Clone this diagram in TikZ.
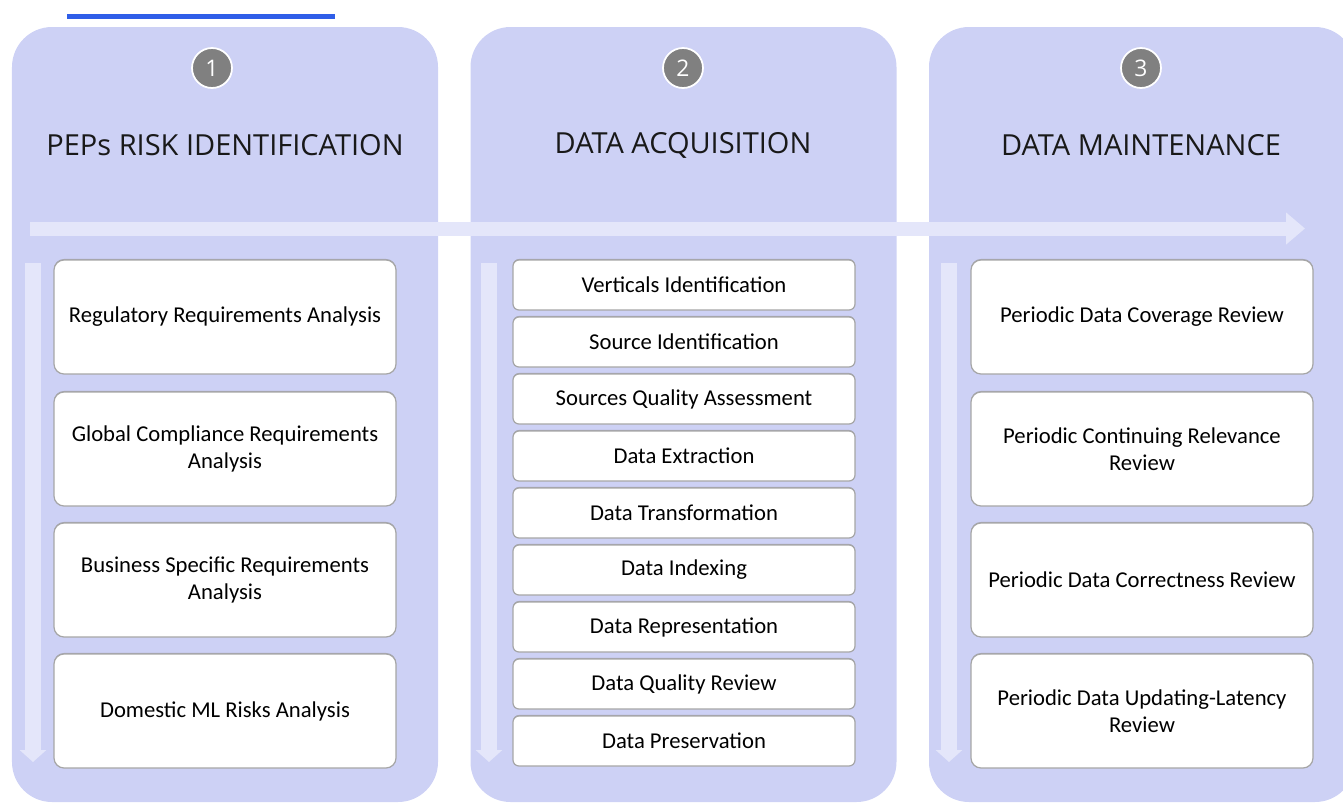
\documentclass[tikz,border=0pt]{standalone}
\usepackage{fontspec}
\setmainfont{Carlito}
\newfontfamily\headfont{Open Sans}
\usepackage{tikz}
\usetikzlibrary{calc,positioning,arrows.meta,shadows}

\definecolor{panelfill}{RGB}{205,209,245}
\definecolor{flowfill}{RGB}{228,230,250}
\definecolor{topline}{RGB}{47,94,232}
\definecolor{stepgray}{RGB}{128,128,128}

\begin{document}
\begin{tikzpicture}[>=Triangle]
      \tikzset{
	  panel/.style={rectangle, rounded corners=0.8cm, fill=panelfill, minimum width=8.52cm, minimum height=15.5cm, inner sep=0em},
	  stepnum/.style={circle, fill=stepgray, draw=white, line width=1pt, minimum size=0.8cm, inner sep=0em, text=white, font=\headfont\fontsize{13}{13}\selectfont},
	  heading/.style={font=\headfont\fontsize{16.5}{18}\selectfont, text=black!90},
	  bigbox/.style={rectangle, rounded corners=0.2cm, fill=white, draw=black!35, line width=0.7pt, minimum width=6.84cm, minimum height=2.28cm, align=center, text=black, font=\fontsize{12.9}{15.5}\selectfont, drop shadow={shadow xshift=0pt, shadow yshift=0.6pt, fill=black!45, opacity=0.6}},
	  smallbox/.style={bigbox, minimum height=1.0cm, rounded corners=0.12cm},
	  flow/.style={flowfill, line width=0.28cm, -{Triangle[length=0.38cm, width=0.62cm]}},
	  downflow/.style={flowfill, line width=0.32cm, -{Triangle[length=0.24cm, width=0.52cm]}},
      }
      \useasboundingbox (0,0) rectangle (26.86,-16.04);
      \clip (0,0) rectangle (26.86,-16.04);

      \draw [topline, line width=0.1cm] (1.34,-0.32) -- (6.7,-0.32);

      % the three phases
      \node (p1) at (4.5, -8.29) [panel] {};
      \node (p2) at (13.67, -8.29) [panel] {};
      \node (p3) at (22.84, -8.29) [panel] {};

      \node (n1) at (4.24, -1.36) [stepnum] {1};
      \node (n2) at (13.66, -1.36) [stepnum] {2};
      \node (n3) at (22.82, -1.36) [stepnum] {3};

      \node (t1) at (4.5, -2.9) [heading] {PEPs RISK IDENTIFICATION};
      \node (t2) at (13.66, -2.9) [heading] {DATA ACQUISITION};
      \node (t3) at (22.82, -2.9) [heading] {DATA MAINTENANCE};

      % flow arrows
      \coordinate (hs) at (0.6, -4.57);
      \coordinate (he) at (26.1, -4.57);
      \draw [flow] (hs) -- (he);
      \coordinate (v1s) at (0.66, -5.26);
      \coordinate (v1e) at (0.66, -15.24);
      \draw [downflow] (v1s) -- (v1e);
      \coordinate (v2s) at (9.78, -5.26);
      \coordinate (v2e) at (9.78, -15.24);
      \draw [downflow] (v2s) -- (v2e);
      \coordinate (v3s) at (18.98, -5.26);
      \coordinate (v3e) at (18.98, -15.24);
      \draw [downflow] (v3s) -- (v3e);

      % phase 1
      \node (a1) at (4.5, -6.34) [bigbox] {Regulatory Requirements Analysis};
      \node (a2) at (4.5, -8.98) [bigbox] {Global Compliance Requirements\\Analysis};
      \node (a3) at (4.5, -11.6) [bigbox] {Business Specific Requirements\\Analysis};
      \node (a4) at (4.5, -14.22) [bigbox] {Domestic ML Risks Analysis};

      % phase 2
      \node (b1) at (13.68, -5.7) [smallbox] {Verticals Identification};
      \node (b2) at (13.68, -6.84) [smallbox] {Source Identification};
      \node (b3) at (13.68, -7.98) [smallbox] {Sources Quality Assessment};
      \node (b4) at (13.68, -9.12) [smallbox] {Data Extraction};
      \node (b5) at (13.68, -10.26) [smallbox] {Data Transformation};
      \node (b6) at (13.68, -11.4) [smallbox] {Data Indexing};
      \node (b7) at (13.68, -12.54) [smallbox] {Data Representation};
      \node (b8) at (13.68, -13.68) [smallbox] {Data Quality Review};
      \node (b9) at (13.68, -14.82) [smallbox] {Data Preservation};

      % phase 3
      \node (c1) at (22.84, -6.34) [bigbox] {Periodic Data Coverage Review};
      \node (c2) at (22.84, -8.98) [bigbox] {Periodic Continuing Relevance\\Review};
      \node (c3) at (22.84, -11.6) [bigbox] {Periodic Data Correctness Review};
      \node (c4) at (22.84, -14.22) [bigbox] {Periodic Data Updating-Latency\\Review};
\end{tikzpicture}
\end{document}
